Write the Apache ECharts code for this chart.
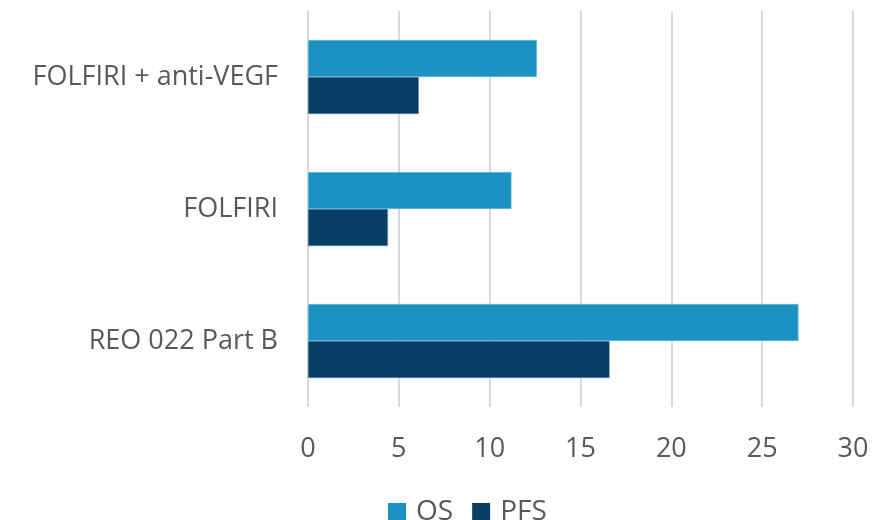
<!DOCTYPE html>
<html><head><meta charset="utf-8">
<script src="https://cdn.jsdelivr.net/npm/echarts@6/dist/echarts.min.js"></script>
<style>html,body{margin:0;padding:0;background:#fff}#c{width:874px;height:520px}</style>
</head><body><div id="c"></div>
<script>
const categories = ['REO 022 Part B', 'FOLFIRI', 'FOLFIRI + anti-VEGF'];
const osValues = [27.0, 11.2, 12.6];
const pfsValues = [16.6, 4.4, 6.1];
const xTicks = [0, 5, 10, 15, 20, 25, 30];

const font = '"Open Sans", sans-serif';
const chart = echarts.init(document.getElementById('c'), null, {renderer: 'canvas'});
chart.setOption({
  animation: false,
  grid: {left: 308, right: 21, top: 11, bottom: 113, containLabel: false},
  legend: {
    top: 493, left: 383, itemWidth: 18, itemHeight: 18, itemGap: 19,
    icon: 'rect', data: ['OS', 'PFS'],
    itemStyle: {borderWidth: 0},
    textStyle: {fontFamily: font, fontSize: 28, color: '#595959', padding: [0, 0, 0, 5]}
  },
  xAxis: {
    type: 'value', min: xTicks[0], max: xTicks[xTicks.length - 1], interval: 5,
    axisLine: {show: false}, axisTick: {show: false},
    splitLine: {show: true, lineStyle: {color: '#d9d9d9', width: 2}},
    axisLabel: {fontFamily: font, fontSize: 27, color: '#595959', margin: 29}
  },
  yAxis: {
    type: 'category', data: categories,
    axisLine: {show: false}, axisTick: {show: false},
    axisLabel: {fontFamily: font, fontSize: 27, color: '#595959', margin: 30}
  },
  series: [
    {name: 'OS', type: 'bar', data: osValues, barWidth: 37, barGap: '0%',
     itemStyle: {color: '#1a93c3', borderColor: '#7cc3e0', borderWidth: 0.5}},
    {name: 'PFS', type: 'bar', data: pfsValues, barWidth: 37, barGap: '0%',
     itemStyle: {color: '#0a3f65', borderColor: '#5b8fb5', borderWidth: 0.5}}
  ]
});
</script></body></html>
